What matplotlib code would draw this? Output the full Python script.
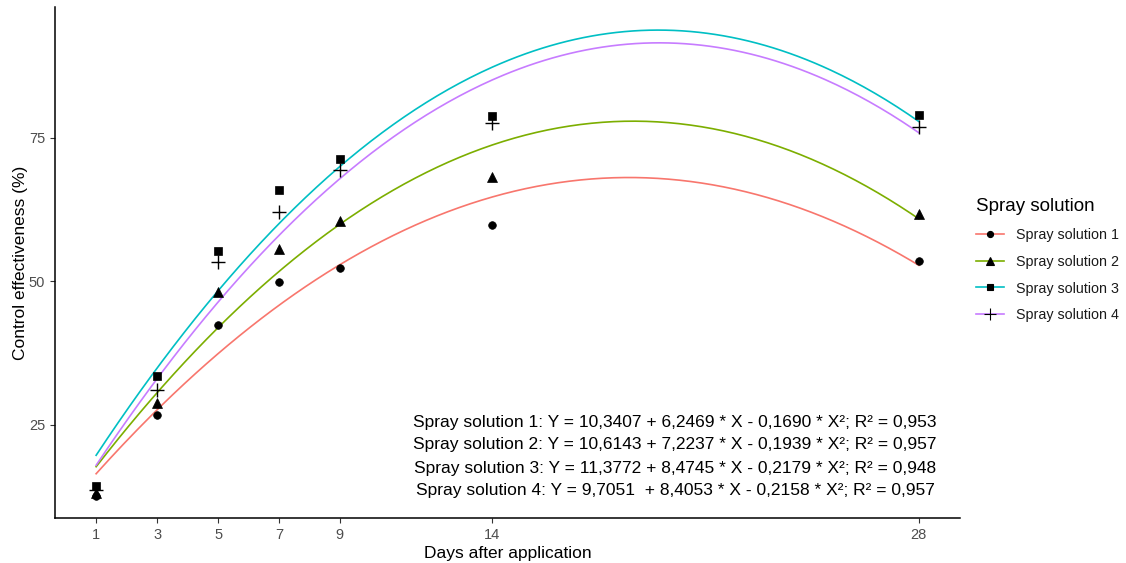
import numpy as np
import matplotlib
matplotlib.use("Agg")
import matplotlib.pyplot as plt
from matplotlib.lines import Line2D

plt.rcParams['font.family'] = ['Liberation Sans', 'DejaVu Sans']

# ---------------- data ----------------
days = [1, 3, 5, 7, 9, 14, 28]
labels = ["Spray solution 1", "Spray solution 2", "Spray solution 3", "Spray solution 4"]

sol1 = [12.6, 26.7, 42.3, 49.8, 52.3, 59.8, 53.5]
sol2 = [13.1, 28.8, 48.1, 55.6, 60.5, 68.2, 61.7]
sol3 = [14.2, 33.4, 55.2, 65.9, 71.3, 78.8, 79.0]
sol4 = [13.6, 31.1, 53.3, 62.1, 69.4, 77.5, 76.9]

# fitted quadratic coefficients shown on the chart (b0, b1, b2)
b0 = [10.3407, 10.6143, 11.3772, 9.7051]
b1 = [6.2469, 7.2237, 8.4745, 8.4053]
b2 = [-0.1690, -0.1939, -0.2179, -0.2158]
eq_text = [
    "Spray solution 1: Y = 10,3407 + 6,2469 * X - 0,1690 * X²; R² = 0,953",
    "Spray solution 2: Y = 10,6143 + 7,2237 * X - 0,1939 * X²; R² = 0,957",
    "Spray solution 3: Y = 11,3772 + 8,4745 * X - 0,2179 * X²; R² = 0,948",
    "Spray solution 4: Y = 9,7051  + 8,4053 * X - 0,2158 * X²; R² = 0,957",
]

colors = ["#F8766D", "#7CAE00", "#00BFC4", "#C77CFF"]
markers = ["o", "^", "s", "+"]
msizes = [5.5, 6.5, 5.5, 10]

series = [sol1, sol2, sol3, sol4]

fig = plt.figure(figsize=(11.26, 5.63), dpi=100)
ax = fig.add_axes([55/1126, 1 - 518/563, (960-55)/1126, (518-7)/563])

xs = np.linspace(1, 28, 300)
for i in range(4):
    ys = b0[i] + b1[i]*xs + b2[i]*xs**2
    ax.plot(xs, ys, color=colors[i], lw=1.2, zorder=2)
for i in range(4):
    ax.plot(days, series[i], linestyle="none", marker=markers[i], color="black",
            markersize=msizes[i], markeredgewidth=1.0 if markers[i] == "+" else 0.5, zorder=3)

ax.set_xlim(-0.35, 29.35)
ax.set_ylim(8.7, 97.8)
ax.set_xticks(days)
ax.set_yticks([25, 50, 75])
ax.tick_params(axis="both", colors="#333333", labelcolor="#4D4D4D", labelsize=10.5,
               length=3.5, width=0.8)
for s in ["top", "right"]:
    ax.spines[s].set_visible(False)
for s in ["left", "bottom"]:
    ax.spines[s].set_linewidth(1.1)
    ax.spines[s].set_color("black")

ax.set_xlabel("Days after application", fontsize=12.5, labelpad=3)
ax.set_ylabel("Control effectiveness (%)", fontsize=12.5, labelpad=1)

for i, t in enumerate(eq_text):
    fig.text(675/1126, 1 - (422 + 23*i)/563, t, ha="center", va="center", fontsize=12.5)

handles = [Line2D([0], [0], color=colors[i], lw=1.2, marker=markers[i],
                  markerfacecolor="black", markeredgecolor="black",
                  markersize=msizes[i]*0.8, markeredgewidth=0.8)
           for i in range(4)]
leg = fig.legend(handles, labels, loc="upper left", bbox_to_anchor=(963/1126, 1 - 185/563),
                 frameon=False, title="Spray solution", fontsize=10.3, title_fontsize=13.5,
                 handlelength=2.0, labelspacing=0.9, alignment="left")
for t in leg.get_texts():
    t.set_color("#1A1A1A")

fig.savefig("out.png", dpi=100)
